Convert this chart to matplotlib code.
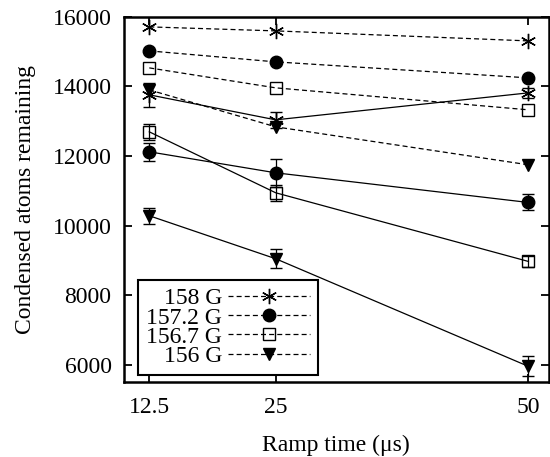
import matplotlib
matplotlib.use("Agg")
import matplotlib.pyplot as plt
import numpy as np

plt.rcParams['font.family'] = ['Liberation Serif', 'DejaVu Serif']
plt.rcParams['mathtext.fontset'] = 'stix'

ramp = [12.5, 25, 50]
labels = ['158 G', '157.2 G', '156.7 G', '156 G']
markers = [(6, 2, 0), 'o', 's', 'v']
msizes = [11, 9, 9, 8.5]

# dashed series (no error bars)
dashed = [
    [15713, 15598, 15310],
    [15023, 14707, 14247],
    [14534, 13960, 13328],
    [13902, 12839, 11747],
]

# solid series with error bars
solid = [
    [13759, 13040, 13816],
    [12121, 11517, 10664],
    [12695, 10943, 8968],
    [10282, 9046, 5951],
]
solid_err = [
    [345, 230, 145],
    [260, 400, 230],
    [230, 230, 170],
    [230, 270, 290],
]

fig = plt.figure(figsize=(5.5, 4.57), dpi=100)
ax = fig.add_axes([0.2255, 0.164, 0.772, 0.799])

handles = []
for i in range(4):
    h, = ax.plot(ramp, dashed[i], color='k', lw=0.9, dashes=(4, 2.5),
                 marker=markers[i], ms=msizes[i], mfc='none' if markers[i] == 's' else 'k',
                 mec='k', mew=1.0, label=labels[i])
    handles.append(h)
    ax.errorbar(ramp, solid[i], yerr=solid_err[i], color='k', lw=0.9,
                marker=markers[i], ms=msizes[i], mfc='none' if markers[i] == 's' else 'k',
                mec='k', mew=1.0, ecolor='k', elinewidth=0.9, capsize=4, capthick=0.9)

ax.set_xlim(10, 52)
ax.set_ylim(5500, 16000)
ax.set_xticks(ramp)
ax.set_xticklabels(['12.5', '25', '50'])
ax.set_yticks([6000, 8000, 10000, 12000, 14000, 16000])
ax.tick_params(direction='in', length=6, width=1.3, labelsize=17,
               top=True, right=True)
ax.tick_params(axis='x', pad=11)
ax.tick_params(axis='y', pad=9)
for s in ax.spines.values():
    s.set_linewidth(1.8)

ax.set_xlabel('Ramp time (\u03bcs)', fontsize=17, labelpad=12)
ax.set_ylabel('Condensed atoms remaining', fontsize=17, labelpad=12)

leg = ax.legend(handles=handles, loc='lower left', bbox_to_anchor=(0.033, 0.019),
                markerfirst=False, fontsize=17, handlelength=3.45, handletextpad=0.25,
                labelspacing=-0.1, borderpad=0.35, borderaxespad=0.0,
                fancybox=False, framealpha=1, edgecolor='k')
leg.get_frame().set_linewidth(1.5)

fig.savefig('out.png', dpi=100)
